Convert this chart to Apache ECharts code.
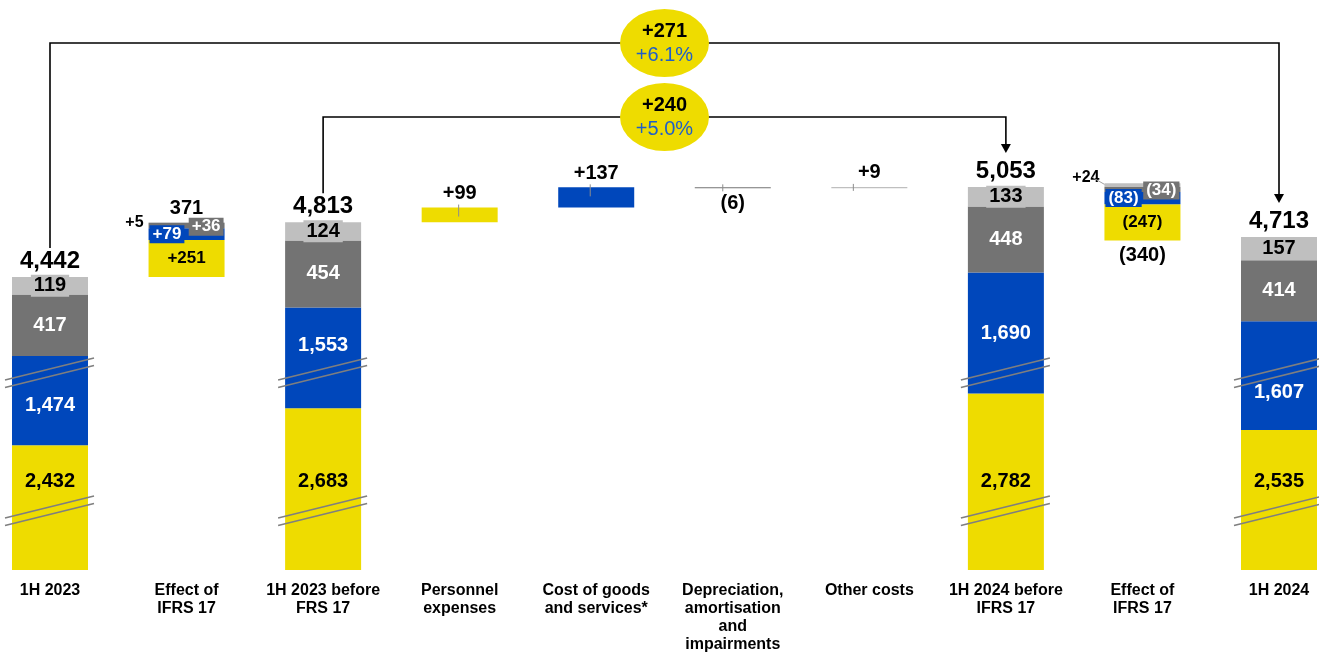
<!DOCTYPE html>
<html><head><meta charset="utf-8">
<script src="https://cdn.jsdelivr.net/npm/echarts@6/dist/echarts.min.js"></script>
<style>html,body{margin:0;padding:0;background:#fff}#c{width:1319px;height:652px}</style>
</head><body><div id="c"></div>
<script>
// ---------- data ----------
const categories = ['1H 2023', 'Effect of\nIFRS 17', '1H 2023 before\nFRS 17', 'Personnel\nexpenses',
  'Cost of goods\nand services*', 'Depreciation,\namortisation\nand\nimpairments', 'Other costs',
  '1H 2024 before\nIFRS 17', 'Effect of\nIFRS 17', '1H 2024'];
const barKind = ['total', 'delta', 'total', 'delta', 'delta', 'delta', 'delta', 'total', 'delta', 'total'];
const yellowValues = [2432, 251, 2683, 99, 0, 0, 0, 2782, -247, 2535];
const blueValues   = [1474, 79, 1553, 0, 137, 0, 0, 1690, -83, 1607];
const darkValues   = [417, 36, 454, 0, 0, -6, 0, 448, -34, 414];
const lightValues  = [119, 5, 124, 0, 0, 0, 9, 133, 24, 157];
const headLabels   = ['4,442', '371', '4,813', '+99', '+137', '(6)', '+9', '5,053', '(340)', '4,713'];
const bridgeFrom = [0, 2];
const bridgeTo = [9, 7];

// ---------- layout constants (broken axis) ----------
const AXIS_BASE = 2456;          // real value at the foot of the bars
const BLUE_CUT = 870;            // part cut out of the blue block of total bars
const YELLOW_CUT = AXIS_BASE - BLUE_CUT;
const Y_MAX = 3864;
const BLUE_BREAK = 1336, YELLOW_BREAK = 400;
const BLUE_LABEL_SHIFT = { 0: 5, 2: -12, 7: 0, 9: 17 };
const FONT = "'Liberation Sans', Arial, sans-serif";
const C = { yellow: '#EEDC00', blue: '#0047BB', dark: '#737373', light: '#BFBFBF' };

// ---------- build stacked display data ----------
const n = categories.length;
const baseD = [], segD = [[], [], [], []], tops = [], nets = [];
let level = 0;
for (let i = 0; i < n; i++) {
  const v = [yellowValues[i], blueValues[i], darkValues[i], lightValues[i]];
  const sum = v.reduce((a, b) => a + b, 0);
  if (barKind[i] === 'total') {
    baseD.push(0);
    segD[0].push(v[0] - YELLOW_CUT); segD[1].push(v[1] - BLUE_CUT);
    segD[2].push(v[2]); segD[3].push(v[3]);
    level = sum; tops.push(sum); nets.push(sum);
  } else {
    const pos = v.filter(x => x > 0).reduce((a, b) => a + b, 0);
    const mag = v.reduce((a, b) => a + Math.abs(b), 0);
    const top = level + pos;
    baseD.push(top - mag - AXIS_BASE);
    for (let k = 0; k < 4; k++) segD[k].push(Math.abs(v[k]));
    tops.push(top); nets.push(sum);
    level += sum;
  }
}
const fmtTotal = v => v.toLocaleString('en-US');
const fmtDelta = v => v > 0 ? '+' + v : '(' + (-v) + ')';
const parseLabel = s => +s.replace(/[,+()]/g, '');
const multi = i => [yellowValues[i], blueValues[i], darkValues[i], lightValues[i]].filter(x => x !== 0).length > 1;

function segLabel(k, i) {
  const raw = [yellowValues, blueValues, darkValues, lightValues][k][i];
  if (barKind[i] === 'total') {
    const text = fmtTotal(raw);
    const common = { show: true, formatter: text, fontFamily: FONT, fontWeight: 'bold', fontSize: 20 };
    if (k === 0) return Object.assign(common, { position: 'insideBottom', distance: 79, color: '#000' });
    if (k === 1) return Object.assign(common, { position: 'inside', color: '#fff', offset: [0, BLUE_LABEL_SHIFT[i] || 0] });
    if (k === 2) return Object.assign(common, { position: 'inside', color: '#fff' });
    return Object.assign(common, { position: 'inside', color: '#000', backgroundColor: C.light, padding: [2, 3, 0, 3] });
  }
  if (!multi(i) || raw === 0) return { show: false };
  const text = fmtDelta(raw);
  const common = { show: true, formatter: text, fontFamily: FONT, fontWeight: 'bold', fontSize: 17 };
  if (k === 0) return Object.assign(common, { position: 'inside', color: '#000' });
  if (k === 1) return Object.assign(common, { position: 'insideLeft', distance: 1, color: '#fff', backgroundColor: C.blue, padding: [1, 3, 0, 3] });
  if (k === 2) return Object.assign(common, { position: 'insideRight', distance: 1, offset: [0, 1], color: '#fff', backgroundColor: C.dark, padding: [1, 3, 0, 3] });
  return Object.assign(common, { position: 'left', distance: 5, fontSize: 16, color: '#000', offset: [0, raw > 0 && nets[i] < 0 ? -8 : 0] });
}

const segNames = ['yellow', 'blue', 'dark', 'light'];
const series = [];
series.push({
  type: 'bar', name: 'base', stack: 'w', barWidth: 76, clip: false, silent: true,
  itemStyle: { color: 'rgba(0,0,0,0)' },
  data: baseD.map((d, i) => ({
    value: d,
    label: nets[i] < 0 && barKind[i] === 'delta'
      ? { show: true, position: 'insideTop', distance: 5, formatter: headLabels[i], fontFamily: FONT, fontWeight: 'bold', fontSize: 20, color: '#000' }
      : { show: false }
  }))
});
segNames.forEach((nm, k) => {
  series.push({
    type: 'bar', name: nm, stack: 'w', barWidth: 76, clip: false,
    itemStyle: { color: C[nm] },
    data: segD[k].map((d, i) => ({ value: d, label: segLabel(k, i) }))
  });
});
series.push({
  type: 'bar', name: 'head', stack: 'w', barWidth: 76, clip: false, silent: true,
  itemStyle: { color: 'rgba(0,0,0,0)' },
  data: headLabels.map((t, i) => ({
    value: 0,
    label: (nets[i] >= 0 || barKind[i] === 'total')
      ? { show: true, position: 'top', distance: 4, formatter: t, fontFamily: FONT, fontWeight: 'bold', fontSize: barKind[i] === 'total' ? 24 : 20, color: '#000' }
      : { show: false }
  }))
});

const chart = echarts.init(document.getElementById('c'));
chart.setOption({
  animation: false,
  grid: { left: 50, right: 40, top: 0, bottom: 82, outerBoundsMode: 'none', containLabel: false },
  xAxis: {
    type: 'category', data: categories, boundaryGap: false,
    axisLine: { show: false }, axisTick: { show: false }, splitLine: { show: false },
    axisLabel: { interval: 0, margin: 12, fontFamily: FONT, fontWeight: 'bold', fontSize: 16, lineHeight: 18, color: '#000' }
  },
  yAxis: { type: 'value', min: 0, max: Y_MAX, show: false, splitLine: { show: false } },
  series
});

// ---------- annotations: breaks, bridges, bubbles ----------
const px = i => chart.convertToPixel({ xAxisIndex: 0 }, i);
const py = v => chart.convertToPixel({ yAxisIndex: 0 }, v);
const g = [];
for (let i = 0; i < n; i++) {
  if (barKind[i] !== 'total') continue;
  const cx = px(i);
  [BLUE_BREAK, YELLOW_BREAK].forEach(b => {
    const y = py(b);
    [-4, 3.5].forEach(o => g.push({
      type: 'line', shape: { x1: cx - 45, y1: y + o + 11, x2: cx + 44, y2: y + o - 11 },
      style: { stroke: '#7f7f7f', lineWidth: 1.6 }, z: 100
    }));
  });
}
const levels = [43, 117];
bridgeFrom.forEach((f, j) => {
  const t = bridgeTo[j];
  const x1 = px(f), x2 = px(t);
  const y1 = py(tops[f] - AXIS_BASE) - 29;
  const y2 = py(tops[t] - AXIS_BASE) - 34;
  const yl = levels[j];
  g.push({ type: 'polyline', shape: { points: [[x1, y1], [x1, yl], [x2, yl], [x2, y2 - 7]] },
    style: { stroke: '#000', lineWidth: 1.6, fill: null }, z: 90 });
  g.push({ type: 'polygon', shape: { points: [[x2 - 5, y2 - 9], [x2 + 5, y2 - 9], [x2, y2]] },
    style: { fill: '#000' }, z: 90 });
  const mx = (x1 + x2) / 2;
  const a = parseLabel(headLabels[f]), b = parseLabel(headLabels[t]);
  const diff = b - a;
  const pct = (diff / a * 100).toFixed(1);
  g.push({ type: 'circle', x: mx, y: yl, scaleY: 34 / 44.5, shape: { cx: 0, cy: 0, r: 44.5 }, style: { fill: C.yellow }, z: 95 });
  g.push({ type: 'text', x: mx, y: yl - 12, z: 96, style: { text: (diff >= 0 ? '+' : '') + diff, align: 'center', verticalAlign: 'middle', fontFamily: FONT, fontWeight: 'bold', fontSize: 20, fill: '#000' } });
  g.push({ type: 'text', x: mx, y: yl + 12, z: 96, style: { text: (diff >= 0 ? '+' : '') + pct + '%', align: 'center', verticalAlign: 'middle', fontFamily: FONT, fontSize: 20, fill: '#1F5FC8' } });
});
// small leader ticks
const tickOff = { 3: -1, 4: -6, 5: -10, 6: -16 };
Object.keys(tickOff).forEach(k => {
  const i = +k, x = px(i) + tickOff[k], y = py(tops[i] - AXIS_BASE);
  g.push({ type: 'line', shape: { x1: x, y1: y - 3, x2: x, y2: y + (i < 5 ? 9 : 4) }, style: { stroke: '#8c8c8c', lineWidth: 1 }, z: 80 });
});
// leader line of the small "+24" label of the second IFRS 17 bar
{
  const i = 8, x = px(i) - 38, y = py(tops[i] - AXIS_BASE);
  g.push({ type: 'line', shape: { x1: x - 12, y1: y - 6, x2: x, y2: y + 1 }, style: { stroke: '#a0a0a0', lineWidth: 1 }, z: 80 });
}
chart.setOption({ graphic: g });
</script>
</body></html>
